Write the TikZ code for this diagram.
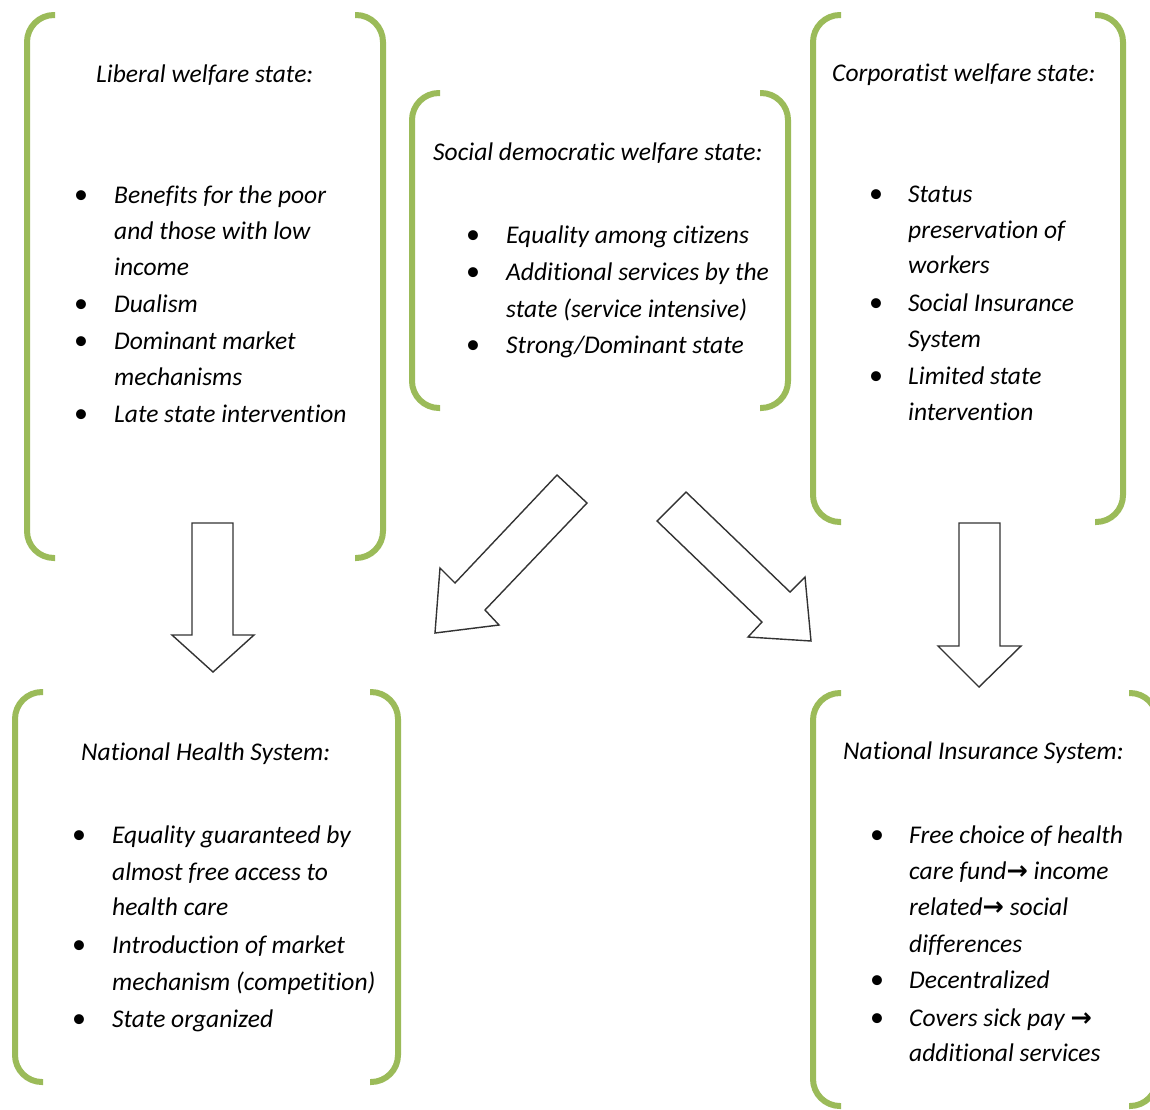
\documentclass[tikz,border=0pt]{standalone}
\usepackage{fontspec}
\setmainfont{Carlito}[Ligatures={NoCommon}]
\newfontfamily\arrowfont{DejaVu Sans}
\definecolor{accgreen}{HTML}{9BBB59}
\newcommand{\ra}{{\arrowfont\upshape\bfseries →}}
\begin{document}
\begin{tikzpicture}[x=1pt,y=-1pt,
  bracket/.style={draw=accgreen,line width=6pt,rounded corners=27pt,line cap=butt},
  blockarrow/.style={draw=black!80,line width=1.4pt,fill=white,line join=miter},
  txt/.style={anchor=base west,inner sep=0pt,font=\fontsize{25.5}{36}\selectfont\itshape},
  bul/.style={anchor=base,inner sep=0pt,font=\fontsize{28}{36}\selectfont}]
\useasboundingbox (0,0) rectangle (1150,1109);
\clip (0,0) rectangle (1150,1109);

% brackets
\draw[bracket] (55,15) -- (27,15) -- (27,558) -- (55,558);
\draw[bracket] (355,15) -- (383,15) -- (383,558) -- (355,558);
\draw[bracket] (440,93) -- (412,93) -- (412,408) -- (440,408);
\draw[bracket] (760,93) -- (788,93) -- (788,408) -- (760,408);
\draw[bracket] (841,15) -- (813,15) -- (813,522) -- (841,522);
\draw[bracket] (1095,15) -- (1123,15) -- (1123,522) -- (1095,522);
\draw[bracket] (43,692) -- (15,692) -- (15,1082) -- (43,1082);
\draw[bracket] (370,692) -- (398,692) -- (398,1082) -- (370,1082);
\draw[bracket] (841,693) -- (813,693) -- (813,1106) -- (841,1106);
\draw[bracket] (1129,693) -- (1157,693) -- (1157,1106) -- (1129,1106);

% block arrows
\draw[blockarrow] (192,523) -- (233,523) -- (233,635) -- (254,635) -- (213,672) -- (172,635) -- (192,635) -- cycle;
\draw[blockarrow] (959,523) -- (1000,523) -- (1000,646) -- (1021,646) -- (979,687) -- (938,646) -- (959,646) -- cycle;
\draw[blockarrow] (557,475) -- (587,503) -- (485,610) -- (499,625) -- (435,633) -- (440,568) -- (455,583) -- cycle;
\draw[blockarrow] (686,492) -- (657,521) -- (762,622) -- (748,637) -- (811,641) -- (805,577) -- (790,592) -- cycle;

% Box 1
\node[txt] (t1) at (96,82) {Liberal welfare state:};
\node[bul] (b11) at (81,203) {•};
\node[txt] (l11) at (114,203) {Benefits for the poor};
\node[txt] (l12) at (114,239) {and those with low};
\node[txt] (l13) at (114,275) {income};
\node[bul] (b12) at (81,312) {•};
\node[txt] (l14) at (114,312) {Dualism};
\node[bul] (b13) at (81,349) {•};
\node[txt] (l15) at (114,349) {Dominant market};
\node[txt] (l16) at (114,385) {mechanisms};
\node[bul] (b14) at (81,422) {•};
\node[txt] (l17) at (114,422) {Late state intervention};

% Box 2
\node[txt] (t2) at (433,160) {Social democratic welfare state:};
\node[bul] (b21) at (473,243) {•};
\node[txt] (l21) at (506,243) {Equality among citizens};
\node[bul] (b22) at (473,280) {•};
\node[txt] (l22) at (506,280) {Additional services by the};
\node[txt] (l23) at (506,317) {state (service intensive)};
\node[bul] (b23) at (473,353) {•};
\node[txt] (l24) at (506,353) {Strong/Dominant state};

% Box 3
\node[txt] (t3) at (832,81) {Corporatist welfare state:};
\node[bul] (b31) at (876,202) {•};
\node[txt] (l31) at (908,202) {Status};
\node[txt] (l32) at (908,238) {preservation of};
\node[txt] (l33) at (908,273) {workers};
\node[bul] (b32) at (876,311) {•};
\node[txt] (l34) at (908,311) {Social Insurance};
\node[txt] (l35) at (908,347) {System};
\node[bul] (b33) at (876,384) {•};
\node[txt] (l36) at (908,384) {Limited state};
\node[txt] (l37) at (908,420) {intervention};

% Box 4
\node[txt] (t4) at (81,760) {National Health System:};
\node[bul] (b41) at (79,843) {•};
\node[txt] (l41) at (112,843) {Equality guaranteed by};
\node[txt] (l42) at (112,880) {almost free access to};
\node[txt] (l43) at (112,915) {health care};
\node[bul] (b42) at (79,953) {•};
\node[txt] (l44) at (112,953) {Introduction of market};
\node[txt] (l45) at (112,990) {mechanism (competition)};
\node[bul] (b43) at (79,1027) {•};
\node[txt] (l46) at (112,1027) {State organized};

% Box 5
\node[txt] (t5) at (843,759) {National Insurance System:};
\node[bul] (b51) at (877,843) {•};
\node[txt] (l51) at (909,843) {Free choice of health};
\node[txt] (l52) at (909,879) {care fund\ra{} income};
\node[txt] (l53) at (909,915) {related\ra{} social};
\node[txt] (l54) at (909,952) {differences};
\node[bul] (b52) at (877,988) {•};
\node[txt] (l55) at (909,988) {Decentralized};
\node[bul] (b53) at (877,1026) {•};
\node[txt] (l56) at (909,1026) {Covers sick pay \ra};
\node[txt] (l57) at (909,1061) {additional services};
\end{tikzpicture}
\end{document}
